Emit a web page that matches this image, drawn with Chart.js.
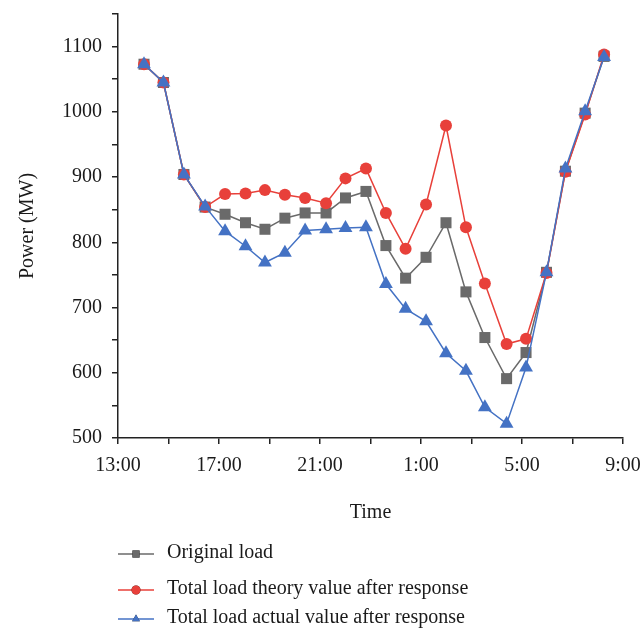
<!DOCTYPE html>
<html>
<head>
<meta charset="utf-8">
<script src="https://cdn.jsdelivr.net/npm/chart.js@4/dist/chart.umd.min.js"></script>
<style>
    html, body { margin: 0; padding: 0; background: #fff; }
    #wrap { width: 642px; height: 628px; }
</style>
</head>
<body>
<div id="wrap"><canvas id="chart" width="642" height="628"></canvas></div>
<script>
    // hours after 13:00 where each sample sits on the time axis
    const hours = [1.03, 1.80, 2.61, 3.45, 4.24, 5.05, 5.82, 6.61, 7.41, 8.24, 9.01, 9.82,
        10.61, 11.39, 12.20, 12.99, 13.78, 14.53, 15.39, 16.16, 16.97, 17.72, 18.50, 19.25];

    const originalLoad = [1073, 1045, 904, 854, 843, 830, 820, 837, 845, 845, 868, 878,
        795, 745, 777, 830, 724, 654, 591, 631, 754, 909, 998, 1085];

    const theoryLoad = [1073, 1045, 904, 854, 874, 875, 880, 873, 868, 860, 898, 913,
        845, 790, 858, 979, 823, 737, 644, 652, 753, 908, 996, 1088];

    const actualLoad = [1073, 1045, 904, 855, 817, 794, 769, 784, 818, 820, 822, 823,
        736, 698, 679, 630, 603, 547, 522, 608, 754, 913, 1001, 1084];

    const timeTicks = ['13:00', '17:00', '21:00', '1:00', '5:00', '9:00'];

    const seriesNames = [
        'Original load',
        'Total load theory value after response',
        'Total load actual value after response'
    ];

    const FONT = 'Liberation Serif, Times New Roman, serif';
    const TEXT = '#1a1a1a';

    function points(values) {
        return values.map(function (v, i) {
            return {x: hours[i], y: v};
        });
    }

    let legendPlugin = {
        id: 'sideLegend',
        afterDraw: function (chart) {
            let ctx = chart.ctx,
                rows = [554, 590, 619];

            ctx.save();
            chart.data.datasets.forEach(function (ds, i) {
                let y = rows[i];
                ctx.strokeStyle = ds.borderColor;
                ctx.lineWidth = 1.5;
                ctx.beginPath();
                ctx.moveTo(118, y);
                ctx.lineTo(154, y);
                ctx.stroke();

                Chart.helpers.drawPoint(ctx, {
                    pointStyle: ds.pointStyle,
                    radius: ds.pointStyle === 'rect' ? 5 : 4.5,
                    borderWidth: 0
                }, 136, y);
                ctx.fillStyle = ds.pointBackgroundColor;
                ctx.fill();

                ctx.fillStyle = TEXT;
                ctx.font = '20px ' + FONT;
                ctx.textBaseline = 'middle';
                ctx.textAlign = 'left';
                ctx.fillText(ds.label, 167, y - 1);
            });
            ctx.restore();
        }
    };

    let makeSet = function (label, values, color, style, radius, order) {
        return {
            label: label,
            data: points(values),
            borderColor: color,
            backgroundColor: color,
            pointBackgroundColor: color,
            pointBorderColor: color,
            pointBorderWidth: 0,
            pointStyle: style,
            pointRadius: radius,
            borderWidth: 1.5,
            tension: 0,
            order: order
        };
    };

    new Chart(document.getElementById('chart'), {
        type: 'line',
        data: {
            datasets: [
                makeSet(seriesNames[0], originalLoad, '#6a6a6a', 'rect', 7.8, 2),
                makeSet(seriesNames[1], theoryLoad, '#e8403a', 'circle', 6, 1),
                makeSet(seriesNames[2], actualLoad, '#4472c4', 'triangle', 8, 0)
            ]
        },
        options: {
            responsive: false,
            animation: false,
            layout: {padding: {left: 0, right: 19, top: 14, bottom: 0}},
            plugins: {
                legend: {display: false},
                tooltip: {enabled: false}
            },
            scales: {
                x: {
                    type: 'linear',
                    min: 0,
                    max: 20,
                    border: {color: '#222', width: 1.5},
                    grid: {drawOnChartArea: false, color: '#222', tickLength: 6, lineWidth: 1.5},
                    ticks: {
                        stepSize: 2,
                        autoSkip: false,
                        maxRotation: 0,
                        padding: 10,
                        color: TEXT,
                        font: {family: FONT, size: 20},
                        callback: function (v) {
                            return v % 4 === 0 ? timeTicks[v / 4] : '';
                        }
                    },
                    title: {
                        display: true,
                        text: 'Time',
                        color: TEXT,
                        font: {family: FONT, size: 20},
                        padding: {top: 0, bottom: 103}
                    },
                    afterFit: function (scale) {
                        scale.height = 190;
                        scale.paddingLeft = 0;
                        scale.paddingRight = 0;
                    }
                },
                y: {
                    min: 500,
                    max: 1150,
                    border: {color: '#222', width: 1.5},
                    grid: {drawOnChartArea: false, color: '#222', tickLength: 6, lineWidth: 1.5},
                    ticks: {
                        stepSize: 50,
                        autoSkip: false,
                        padding: 10,
                        color: TEXT,
                        font: {family: FONT, size: 20},
                        callback: function (v) {
                            return v % 100 === 0 ? String(v) : '';
                        }
                    },
                    title: {
                        display: true,
                        text: 'Power (MW)',
                        color: TEXT,
                        font: {family: FONT, size: 20},
                        padding: {top: 16, bottom: 0}
                    },
                    afterFit: function (scale) {
                        scale.width = 118;
                        scale.paddingTop = 0;
                        scale.paddingBottom = 0;
                    }
                }
            }
        },
        plugins: [legendPlugin]
    });
</script>
</body>
</html>
